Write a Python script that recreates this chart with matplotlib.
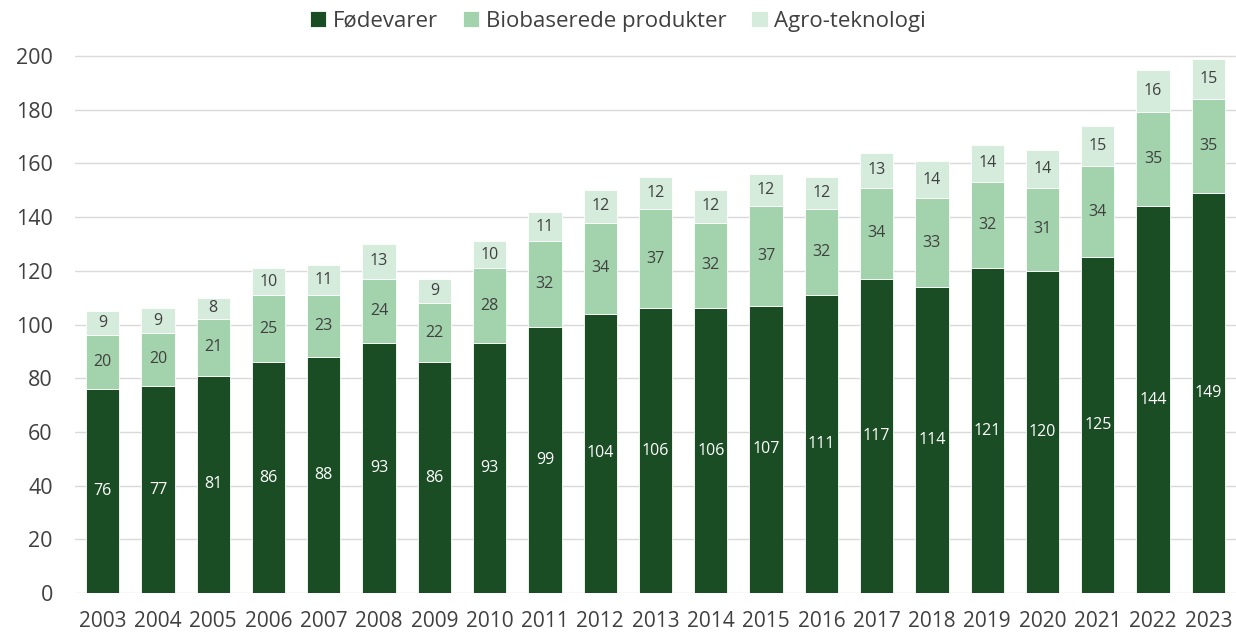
import matplotlib
matplotlib.use("Agg")
import matplotlib.pyplot as plt
import numpy as np

years = [str(y) for y in range(2003, 2024)]
fodevarer = [76, 77, 81, 86, 88, 93, 86, 93, 99, 104, 106, 106, 107, 111, 117, 114, 121, 120, 125, 144, 149]
biobaserede = [20, 20, 21, 25, 23, 24, 22, 28, 32, 34, 37, 32, 37, 32, 34, 33, 32, 31, 34, 35, 35]
agro = [9, 9, 8, 10, 11, 13, 9, 10, 11, 12, 12, 12, 12, 12, 13, 14, 14, 14, 15, 16, 15]
series_names = ["Fødevarer", "Biobaserede produkter", "Agro-teknologi"]
colors = ["#1b4d25", "#a3d3ad", "#d5ebdb"]
label_colors = ["white", "#404040", "#404040"]

plt.rcParams['font.family'] = ['Open Sans', 'DejaVu Sans']

fig = plt.figure(figsize=(12.36, 6.34), dpi=100)
ax = fig.add_axes([75/1236, 41/634, 1161/1236, 553/634])

x = np.arange(len(years))
bottom = np.zeros(len(years))
for vals, name, c, lc in zip([fodevarer, biobaserede, agro], series_names, colors, label_colors):
    vals = np.array(vals, dtype=float)
    ax.bar(x, vals, 0.6, bottom=bottom, color=c, label=name,
           edgecolor="white", linewidth=0.6, zorder=3)
    for xi, b, v in zip(x, bottom, vals):
        ax.text(xi, b + v / 2, f"{int(v)}", ha="center", va="center",
                color=lc, fontsize=11.5, zorder=4)
    bottom += vals

ax.set_xlim(-0.5, len(years) - 0.5)
ax.set_ylim(0, 206)
ax.set_yticks(np.arange(0, 201, 20))
ax.set_xticks(x)
ax.set_xticklabels(years)
ax.tick_params(axis="both", length=0, labelsize=15, labelcolor="#404040")
ax.tick_params(axis="x", pad=13)
ax.tick_params(axis="y", pad=16, labelsize=15.5)
ax.grid(axis="y", color="#d9d9d9", linewidth=1, zorder=0)
for s in ["top", "right", "left", "bottom"]:
    ax.spines[s].set_visible(False)

handles, labels = ax.get_legend_handles_labels()
fig.legend(handles, labels, loc="center", bbox_to_anchor=(0.5, 1 - 21/634), ncol=3,
           frameon=False, fontsize=16, handlelength=0.75, handleheight=0.75,
           handletextpad=0.3, columnspacing=1.1, labelcolor="#404040")

fig.savefig("out.png", dpi=100)
